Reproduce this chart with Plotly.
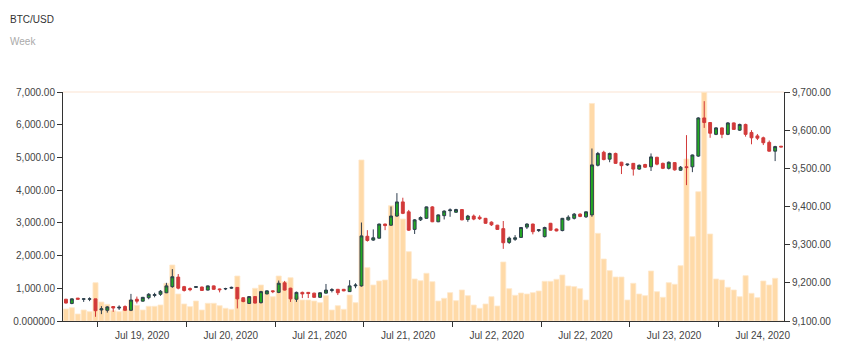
import plotly.graph_objects as go

# ---- data ----
opens = [9157, 9146, 9160, 9157, 9157, 9158, 9129, 9128, 9138, 9134,
         9138, 9128, 9157, 9152, 9161, 9167, 9170, 9174, 9190, 9215,
         9190, 9185, 9188, 9189, 9181, 9192, 9184, 9184, 9186, 9188,
         9161, 9146, 9164, 9148, 9171, 9179, 9175, 9200, 9186, 9157,
         9175, 9175, 9173, 9162, 9173, 9180, 9183, 9183, 9177, 9192,
         9192, 9322, 9312, 9317, 9354, 9351, 9375, 9412, 9386, 9340,
         9365, 9369, 9399, 9360, 9376, 9389, 9385, 9392, 9366, 9375,
         9372, 9369, 9359, 9351, 9342, 9306, 9314, 9319, 9346, 9354,
         9337, 9321, 9356, 9341, 9337, 9365, 9369, 9380, 9373, 9378,
         9508, 9542, 9524, 9539, 9516, 9509, 9513, 9498, 9510, 9504,
         9529, 9513, 9500, 9515, 9495, 9504, 9504, 9532, 9632, 9620,
         9589, 9606, 9589, 9619, 9600, 9615, 9594, 9585, 9580, 9568,
         9545, 9558]
highs = [9158, 9159, 9160, 9160, 9162, 9158, 9139, 9139, 9139, 9141,
         9141, 9171, 9164, 9163, 9173, 9174, 9181, 9200, 9236, 9223,
         9192, 9188, 9191, 9190, 9193, 9193, 9185, 9187, 9190, 9189,
         9162, 9165, 9165, 9179, 9180, 9180, 9206, 9205, 9187, 9177,
         9177, 9176, 9174, 9175, 9197, 9186, 9184, 9184, 9207, 9199,
         9358, 9338, 9340, 9355, 9355, 9400, 9435, 9423, 9391, 9367,
         9374, 9400, 9401, 9379, 9390, 9395, 9394, 9393, 9378, 9379,
         9377, 9370, 9361, 9352, 9362, 9321, 9325, 9346, 9356, 9355,
         9341, 9347, 9357, 9342, 9370, 9377, 9383, 9382, 9387, 9552,
         9543, 9546, 9541, 9541, 9517, 9512, 9514, 9510, 9512, 9539,
         9530, 9515, 9518, 9516, 9506, 9587, 9536, 9634, 9676, 9621,
         9608, 9607, 9621, 9620, 9617, 9617, 9600, 9590, 9583, 9573,
         9559, 9558]
lows = [9146, 9144, 9157, 9150, 9152, 9111, 9118, 9122, 9124, 9129,
        9126, 9126, 9146, 9151, 9157, 9162, 9166, 9173, 9187, 9183,
        9177, 9178, 9187, 9179, 9180, 9182, 9175, 9181, 9184, 9133,
        9149, 9145, 9146, 9146, 9170, 9173, 9173, 9180, 9150, 9150,
        9160, 9160, 9161, 9161, 9172, 9175, 9168, 9178, 9176, 9186,
        9190, 9308, 9310, 9316, 9338, 9349, 9373, 9380, 9336, 9328,
        9362, 9368, 9359, 9359, 9366, 9373, 9383, 9364, 9360, 9364,
        9365, 9355, 9349, 9339, 9289, 9302, 9310, 9318, 9341, 9327,
        9333, 9319, 9337, 9335, 9335, 9363, 9366, 9372, 9370, 9373,
        9505, 9521, 9516, 9512, 9485, 9506, 9481, 9496, 9501, 9493,
        9508, 9498, 9497, 9494, 9493, 9456, 9490, 9530, 9606, 9580,
        9587, 9579, 9587, 9601, 9598, 9583, 9563, 9574, 9561, 9544,
        9519, 9556]
closes = [9147, 9158, 9157, 9158, 9158, 9127, 9132, 9137, 9134, 9136,
          9128, 9155, 9152, 9162, 9170, 9169, 9178, 9192, 9216, 9186,
          9180, 9182, 9190, 9180, 9192, 9183, 9182, 9185, 9188, 9158,
          9151, 9164, 9147, 9177, 9179, 9177, 9199, 9181, 9158, 9175,
          9171, 9172, 9162, 9174, 9181, 9182, 9174, 9179, 9192, 9194,
          9323, 9311, 9318, 9354, 9350, 9375, 9412, 9382, 9338, 9365,
          9371, 9399, 9360, 9378, 9388, 9391, 9392, 9365, 9375, 9367,
          9368, 9356, 9352, 9340, 9305, 9317, 9318, 9345, 9354, 9334,
          9339, 9345, 9338, 9336, 9369, 9372, 9380, 9374, 9386, 9509,
          9539, 9523, 9539, 9513, 9507, 9511, 9498, 9508, 9503, 9530,
          9511, 9500, 9516, 9496, 9503, 9502, 9535, 9632, 9620, 9592,
          9606, 9589, 9619, 9602, 9615, 9589, 9580, 9579, 9567, 9545,
          9557, 9556]
volumes = [367, 407, 214, 336, 285, 1171, 581, 510, 316, 285,
           357, 642, 479, 336, 449, 449, 489, 1151, 1712, 825,
           520, 438, 611, 336, 541, 541, 468, 388, 357, 1375,
           650, 720, 1000, 1100, 896, 743, 1375, 1201, 1324, 743,
           642, 642, 611, 560, 774, 336, 468, 357, 795, 560,
           4922, 1630, 1100, 1223, 1253, 3525, 3292, 3118, 2119, 1284,
           1232, 1458, 1201, 611, 694, 866, 621, 948, 774, 489,
           388, 520, 743, 459, 1804, 988, 785, 856, 825, 866,
           917, 1213, 1213, 1274, 1406, 1070, 1050, 988, 642, 6650,
           2680, 1895, 1539, 1345, 1345, 642, 1152, 825, 774, 1529,
           896, 724, 1171, 1122, 1691, 4952, 2578, 3953, 6990, 2660,
           1284, 1253, 1030, 948, 743, 1385, 846, 713, 1223, 1100,
           1305, 0]

x_labels = ["Jul 19, 2020", "Jul 20, 2020", "Jul 21, 2020", "Jul 21, 2020",
            "Jul 22, 2020", "Jul 22, 2020", "Jul 23, 2020", "Jul 24, 2020"]
x_label_pos = [12.9, 27.9, 42.9, 57.9, 72.9, 87.9, 102.9, 117.9]
x_tick_pos = [5.4, 20.4, 35.4, 50.4, 65.4, 80.4, 95.4, 110.4]

vol_ticks = [0, 1000, 2000, 3000, 4000, 5000, 6000, 7000]
vol_tick_text = ["0.000000", "1,000.00", "2,000.00", "3,000.00", "4,000.00",
                 "5,000.00", "6,000.00", "7,000.00"]
price_ticks = [9100, 9200, 9300, 9400, 9500, 9600, 9700]
price_tick_text = ["9,100.00", "9,200.00", "9,300.00", "9,400.00",
                   "9,500.00", "9,600.00", "9,700.00"]

idx = list(range(len(closes)))

fig = go.Figure()
fig.add_trace(go.Bar(
    x=idx, y=volumes, yaxis="y",
    marker=dict(color="#ffdaa8", line=dict(color="#ffe8cc", width=0.8)),
    hoverinfo="skip",
))
fig.add_trace(go.Candlestick(
    x=idx, open=opens, high=highs, low=lows, close=closes, yaxis="y2",
    increasing=dict(line=dict(color="#2e3e4e", width=1), fillcolor="#22aa22"),
    decreasing=dict(line=dict(color="#d23a3a", width=1), fillcolor="#d23a3a"),
    whiskerwidth=0,
))

axis_font = dict(family="Liberation Sans, Arial, sans-serif", size=10, color="#444")
fig.update_layout(
    width=854, height=353,
    margin=dict(l=63, r=70, t=92, b=32),
    paper_bgcolor="white", plot_bgcolor="white",
    showlegend=False,
    bargap=0.14,
    xaxis=dict(
        range=[-0.5, 121.5], showgrid=False, zeroline=False,
        showline=True, linecolor="#333", linewidth=1,
        tickmode="array", tickvals=x_label_pos, ticktext=x_labels,
        ticks="outside", ticklen=5, tickcolor="rgba(0,0,0,0)",
        tickfont=axis_font,
        minor=dict(tickmode="array", tickvals=x_tick_pos, ticks="outside",
                   ticklen=5, tickcolor="#333", tickwidth=1, showgrid=False),
        rangeslider=dict(visible=False),
        fixedrange=True,
    ),
    yaxis=dict(
        range=[0, 7000], showgrid=False, zeroline=False,
        showline=True, linecolor="#333", linewidth=1,
        tickmode="array", tickvals=vol_ticks, ticktext=vol_tick_text,
        ticks="outside", ticklen=5, tickcolor="#333",
        tickfont=axis_font,
    ),
    yaxis2=dict(
        range=[9100, 9700], overlaying="y", side="right", anchor="x",
        showgrid=False, zeroline=False,
        showline=True, linecolor="#333", linewidth=1,
        tickmode="array", tickvals=price_ticks, ticktext=price_tick_text,
        ticks="outside", ticklen=5, tickcolor="#333",
        tickfont=axis_font,
    ),
    annotations=[
        dict(text="BTC/USD", xref="paper", yref="paper",
             x=(8 - 63) / 721, y=(321 - 20) / 229, xanchor="left", yanchor="middle",
             showarrow=False,
             font=dict(family="Liberation Sans, Arial, sans-serif", size=10, color="#333")),
        dict(text="Week", xref="paper", yref="paper",
             x=(8 - 63) / 721, y=(321 - 42) / 229, xanchor="left", yanchor="middle",
             showarrow=False,
             font=dict(family="Liberation Sans, Arial, sans-serif", size=10, color="#aaa")),
    ],
    shapes=[
        dict(type="line", xref="paper", yref="paper", x0=0, x1=1, y0=1, y1=1,
             line=dict(color="#fdf1e8", width=2), layer="below"),
    ],
)

fig.write_html("out.html")
